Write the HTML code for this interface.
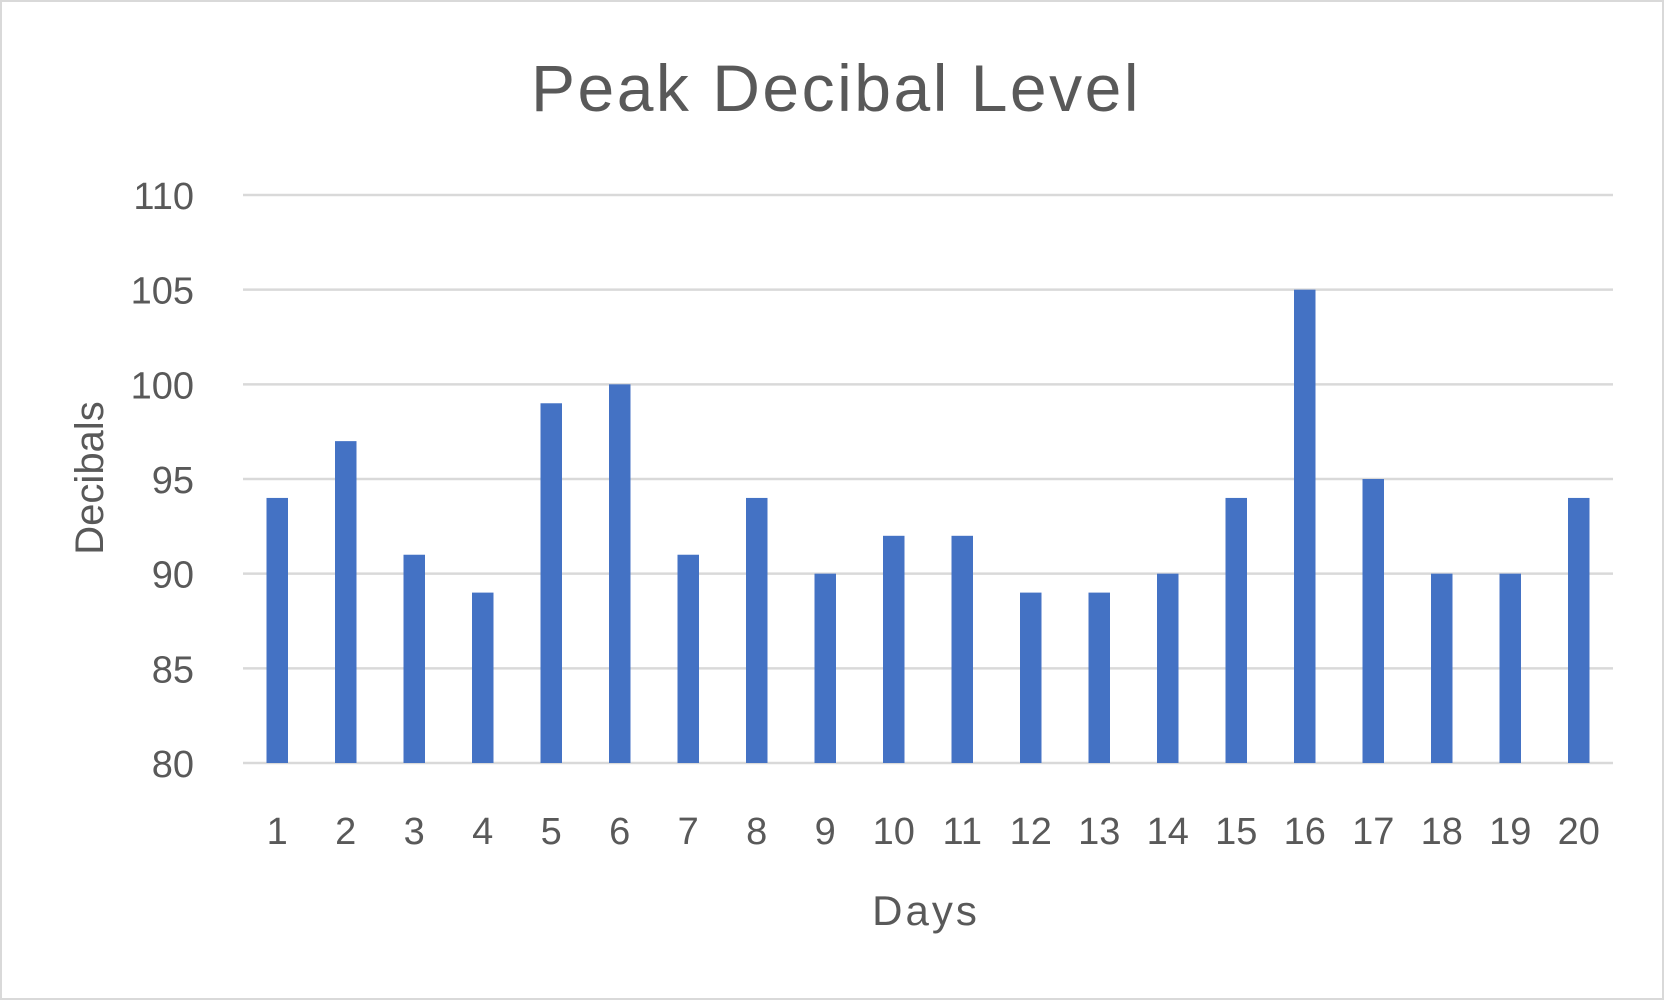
<!DOCTYPE html>
<html><head><meta charset="utf-8"><style>
html,body{margin:0;padding:0;background:#fff;}
svg{display:block;font-family:"Liberation Sans",sans-serif;}
</style></head><body>
<svg id="chart" width="1664" height="1000" viewBox="0 0 1664 1000">
<rect x="1" y="1" width="1662" height="998" fill="#fff" stroke="#d9d9d9" stroke-width="2"/>
<text x="836" y="111" text-anchor="middle" font-size="66" letter-spacing="2.5" fill="#595959">Peak Decibal Level</text>
<g id="grid"></g>
<g id="bars"></g>
<g id="xlabels"></g>
<g id="ylabels"></g>
<text x="926" y="925" text-anchor="middle" font-size="42" letter-spacing="3" fill="#595959">Days</text>
<text transform="translate(103,478) rotate(-90)" text-anchor="middle" font-size="40" fill="#595959">Decibals</text>
</svg>
<script>
const categories = ["1","2","3","4","5","6","7","8","9","10","11","12","13","14","15","16","17","18","19","20"];
const values = [94,97,91,89,99,100,91,94,90,92,92,89,89,90,94,105,95,90,90,94];
const yTicks = [80,85,90,95,100,105,110];
const NS = "http://www.w3.org/2000/svg";
const plotL = 243, plotR = 1613, yTop = 195, yBot = 763, yMin = 80, yMax = 110;
const y = v => yBot - (v - yMin) / (yMax - yMin) * (yBot - yTop);
const step = (plotR - plotL) / categories.length;
const x = i => plotL + step * (i + 0.5);
const bw = 21.5;
const grid = document.getElementById('grid'), bars = document.getElementById('bars'),
      xl = document.getElementById('xlabels'), yl = document.getElementById('ylabels');
yTicks.forEach(t => {
  const l = document.createElementNS(NS, 'line');
  l.setAttribute('x1', plotL); l.setAttribute('x2', plotR);
  l.setAttribute('y1', y(t)); l.setAttribute('y2', y(t));
  l.setAttribute('stroke', '#d9d9d9'); l.setAttribute('stroke-width', '2.5');
  
  
  grid.appendChild(l);
  const tx = document.createElementNS(NS, 'text');
  tx.setAttribute('x', 194); tx.setAttribute('y', y(t) + 14);
  tx.setAttribute('text-anchor', 'end'); tx.setAttribute('font-size', '38'); tx.setAttribute('fill', '#595959');
  tx.textContent = t;
  
  
  yl.appendChild(tx);
});
categories.forEach((c, i) => {
  const r = document.createElementNS(NS, 'rect');
  r.setAttribute('x', x(i) - bw / 2); r.setAttribute('width', bw);
  r.setAttribute('y', y(values[i])); r.setAttribute('height', yBot - y(values[i]));
  r.setAttribute('fill', '#4472c4');
  
  
  bars.appendChild(r);
  const tx = document.createElementNS(NS, 'text');
  tx.setAttribute('x', x(i)); tx.setAttribute('y', 844);
  tx.setAttribute('text-anchor', 'middle'); tx.setAttribute('font-size', '38'); tx.setAttribute('fill', '#595959');
  tx.textContent = c;
  
  
  xl.appendChild(tx);
});
</script>
</body></html>
